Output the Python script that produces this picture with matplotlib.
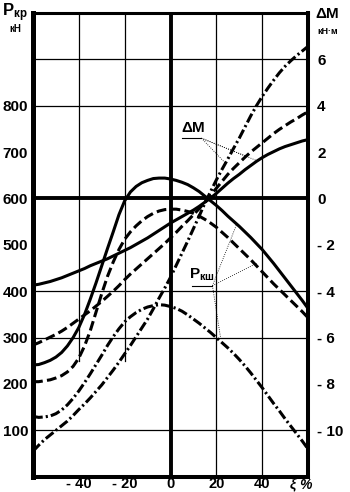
import matplotlib.pyplot as plt

plt.rcParams['font.family'] = ['Liberation Sans', 'DejaVu Sans']
plt.rcParams['font.weight'] = 'bold'
plt.rcParams['mathtext.fontset'] = 'custom'
plt.rcParams['mathtext.rm'] = 'Liberation Sans:bold'
plt.rcParams['mathtext.bf'] = 'Liberation Sans:bold'
plt.rcParams['mathtext.it'] = 'Liberation Sans:bold:italic'

# ξ, %
xi = [-60, -57.5, -55, -52.5, -50, -47.5, -45, -42.5, -40, -37.5, -35, -32.5, -30,
      -27.5, -25, -22.5, -20, -17.5, -15, -12.5, -10, -7.5, -5, -2.5, 0,
      2.5, 5, 7.5, 10, 12.5, 15, 17.5, 20, 22.5, 25, 27.5, 30, 32.5, 35,
      37.5, 40, 42.5, 45, 47.5, 50, 52.5, 55, 57.5, 60]

# P_кр, кН (левая шкала)
p_solid = [241, 242, 246, 251, 258, 268, 282, 300, 322, 350, 383, 418, 455,
           492, 528, 565, 595, 614, 626, 634, 639, 643, 644, 644, 642,
           639, 635, 630, 623, 615, 605, 595, 585, 574, 562, 551, 540, 528, 516,
           503, 490, 475, 460, 444, 428, 412, 396, 380, 363]
p_dash = [205, 205, 207, 209, 213, 218, 226, 238, 256, 282, 315, 355, 395,
          432, 463, 490, 512, 528, 541, 552, 561, 568, 573, 576, 577,
          577, 575, 572, 568, 562, 555, 547, 538, 527, 516, 504, 492, 480, 468,
          455, 442, 429, 416, 404, 392, 380, 368, 356, 343]
p_dashdot = [130, 128, 129, 131, 136, 144, 155, 169, 185, 203, 222, 242, 262,
             283, 302, 319, 334, 345, 354, 361, 366, 369, 371, 370, 367,
             363, 357, 349, 340, 331, 321, 311, 300, 289, 278, 266, 253, 239, 224,
             208, 192, 175, 158, 142, 125, 109, 93, 77, 60]

# ΔM, кН·м (правая шкала)
dm_solid = [-3.74, -3.7, -3.64, -3.58, -3.5, -3.42, -3.32, -3.22, -3.12, -3.02, -2.9, -2.8, -2.7,
            -2.6, -2.48, -2.36, -2.24, -2.12, -1.98, -1.84, -1.7, -1.54, -1.38, -1.22, -1.06,
            -0.92, -0.78, -0.64, -0.5, -0.34, -0.16, 0.02, 0.22, 0.44, 0.66, 0.86, 1.04, 1.24, 1.42,
            1.6, 1.76, 1.9, 2.02, 2.14, 2.24, 2.32, 2.4, 2.48, 2.54]
dm_dash = [-6.32, -6.22, -6.1, -5.98, -5.86, -5.72, -5.56, -5.38, -5.2, -5.02, -4.84, -4.64, -4.44,
           -4.22, -4.0, -3.76, -3.5, -3.26, -3.04, -2.82, -2.6, -2.38, -2.16, -1.94, -1.7,
           -1.46, -1.2, -0.96, -0.7, -0.44, -0.16, 0.14, 0.44, 0.74, 1.04, 1.3, 1.54, 1.78, 2.0,
           2.2, 2.4, 2.6, 2.8, 2.98, 3.14, 3.3, 3.44, 3.6, 3.74]
dm_dashdot = [-10.9, -10.64, -10.4, -10.2, -10.0, -9.8, -9.6, -9.36, -9.1, -8.86, -8.6, -8.32, -8.04,
              -7.72, -7.4, -7.06, -6.7, -6.34, -5.96, -5.58, -5.2, -4.76, -4.3, -3.86, -3.4,
              -2.88, -2.36, -1.84, -1.3, -0.76, -0.2, 0.3, 0.8, 1.26, 1.7, 2.16, 2.6, 3.08, 3.56,
              4.0, 4.4, 4.76, 5.1, 5.42, 5.7, 5.94, 6.16, 6.36, 6.56]

x_ticks = [-40, -20, 0, 20, 40]
x_labels = ['- 40', '- 20', '0', '20', '40']
p_ticks = [100, 200, 300, 400, 500, 600, 700, 800]
dm_ticks = [-10, -8, -6, -4, -2, 0, 2, 4, 6]
dm_labels = ['- 10', '- 8', '- 6', '- 4', '- 2', '0', '2', '4', '6']

fig = plt.figure(figsize=(3.5, 4.92), dpi=100)
ax = fig.add_axes([0.0943, 0.031, 0.7857, 0.9426])
ax.set_xlim(-60, 60)
ax.set_ylim(0, 1000)

# сетка
for y in [100, 300, 400, 800, 900]:
    ax.axhline(y, color='black', lw=0.9, zorder=1)
for x in [20, 40]:
    ax.axvline(x, color='black', lw=0.9, zorder=1)
for x in [-40, -20]:
    ax.axvline(x, ymin=0.25, ymax=1, color='black', lw=0.9, zorder=1)
ax.axhline(600, color='black', lw=2.8, zorder=2)
ax.axvline(0, color='black', lw=2.8, zorder=2)

lw = 2.2
dash = (3.2, 1.4)
dashdot = (3.2, 1.0, 0.7, 1.0)
ax.plot(xi, p_solid, color='black', lw=lw, zorder=3)
ax.plot(xi, p_dash, color='black', lw=lw, dashes=dash, zorder=3)
ax.plot(xi, p_dashdot, color='black', lw=lw, dashes=dashdot, zorder=3)

ax.set_xticks(x_ticks)
ax.set_xticklabels(x_labels)
ax.set_yticks(p_ticks)
ax.tick_params(axis='both', length=0, labelsize=11)
ax.tick_params(axis='y', pad=3.5)
ax.tick_params(axis='x', pad=0.5, labelsize=10.5)

ax.spines['left'].set_linewidth(3.6)
ax.spines['bottom'].set_linewidth(2.9)
ax.spines['top'].set_linewidth(2.2)
ax.spines['right'].set_linewidth(2.9)

ax2 = ax.twinx()
ax2.set_ylim(-12, 8)
ax2.plot(xi, dm_solid, color='black', lw=lw, zorder=3)
ax2.plot(xi, dm_dash, color='black', lw=lw, dashes=dash, zorder=3)
ax2.plot(xi, dm_dashdot, color='black', lw=lw, dashes=dashdot, zorder=3)
ax2.set_yticks(dm_ticks)
ax2.set_yticklabels(dm_labels)
ax2.tick_params(axis='y', length=0, labelsize=11, pad=6.5)
for s in ax2.spines.values():
    s.set_visible(False)

# выноски
ax.text(10, 752, 'ΔM', fontsize=11, ha='center', va='center')
ax.plot([4.8, 13.5], [730, 730], color='black', lw=0.8)
for ex, ey in [(24, 676), (33, 691), (38, 681)]:
    ax.plot([13.5, ex], [730, ey], color='black', lw=0.6, ls=':')

ax.text(13.5, 436, 'P$_{\\mathrm{кш}}$', fontsize=11, ha='center', va='center')
ax.plot([9.2, 18.3], [412, 412], color='black', lw=0.8)
for ex, ey in [(29, 546), (37.5, 460), (22, 295)]:
    ax.plot([18.3, ex], [412, ey], color='black', lw=0.6, ls=':')

ax.text(57, -16, 'ξ %', fontsize=10, ha='center', va='center', style='italic')

# подписи осей
fig.text(15 / 350, 1 - 13 / 492, 'P$_{\\mathrm{кр}}$', fontsize=12, ha='center', va='center')
fig.text(15 / 350, 1 - 29 / 492, 'кН', fontsize=7, ha='center', va='center')
fig.text(327 / 350, 1 - 14 / 492, 'ΔM', fontsize=11, ha='center', va='center')
fig.text(328 / 350, 1 - 31 / 492, 'кН·м', fontsize=6.5, ha='center', va='center')

fig.savefig('out.png', dpi=100)
